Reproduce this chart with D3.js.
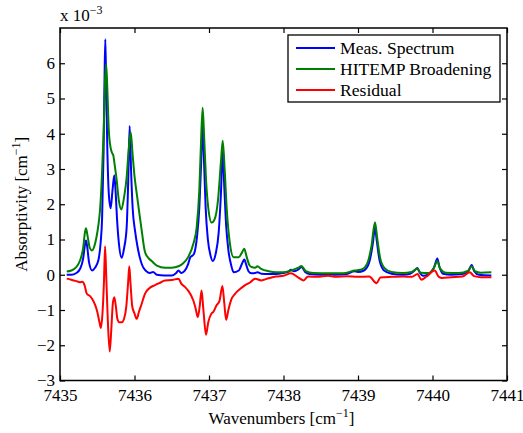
<!DOCTYPE html>
<html>
<head>
<meta charset="utf-8">
<script src="https://cdn.jsdelivr.net/npm/d3@7"></script>
<style>
  html, body { margin: 0; padding: 0; background: #fff; }
  svg { display: block; }
  text { font-family: "Liberation Serif", "Times New Roman", serif; fill: #000; }
</style>
</head>
<body>
<svg id="chart" width="523" height="433"></svg>
<script>
// Absorptivity spectra, values in units of 1e-3 cm^-1, wavenumber in cm^-1
const measured = [
  [7435.09, 0.00], [7435.15, 0.00], [7435.22, 0.05], [7435.27, 0.17], [7435.31, 0.45],
  [7435.335, 0.85], [7435.349, 0.97], [7435.365, 0.80], [7435.39, 0.35], [7435.43, 0.12],
  [7435.47, 0.20], [7435.515, 0.41], [7435.545, 0.90], [7435.565, 1.60], [7435.585, 3.50],
  [7435.598, 5.60], [7435.608, 6.68], [7435.618, 5.60], [7435.635, 3.60], [7435.655, 2.30],
  [7435.68, 1.89], [7435.705, 2.40], [7435.729, 2.82], [7435.748, 2.30], [7435.765, 1.60],
  [7435.79, 0.90], [7435.828, 0.48], [7435.86, 0.75], [7435.895, 1.35], [7435.915, 2.60],
  [7435.935, 4.22], [7435.955, 2.90], [7435.975, 1.90], [7436.007, 1.25], [7436.04, 0.80],
  [7436.07, 0.50], [7436.12, 0.20], [7436.21, 0.05], [7436.25, 0.08], [7436.30, 0.00],
  [7436.40, -0.02], [7436.50, -0.02], [7436.56, 0.05], [7436.59, 0.12], [7436.63, 0.05],
  [7436.67, 0.10], [7436.72, 0.30], [7436.75, 0.50], [7436.77, 0.53], [7436.80, 0.60],
  [7436.84, 1.10], [7436.87, 1.90], [7436.895, 3.20], [7436.915, 4.24], [7436.935, 3.10],
  [7436.955, 1.90], [7436.985, 1.00], [7437.02, 0.55], [7437.05, 0.39], [7437.09, 0.60],
  [7437.13, 1.20], [7437.16, 2.30], [7437.184, 3.48], [7437.205, 2.50], [7437.23, 1.40],
  [7437.26, 0.70], [7437.30, 0.25], [7437.33, 0.07], [7437.40, 0.12], [7437.44, 0.30],
  [7437.474, 0.43], [7437.50, 0.28], [7437.53, 0.10], [7437.57, 0.04], [7437.62, 0.05],
  [7437.65, 0.07], [7437.70, 0.03], [7437.80, 0.02], [7437.90, 0.02], [7438.00, 0.05],
  [7438.06, 0.08], [7438.10, 0.14], [7438.14, 0.10], [7438.20, 0.15], [7438.24, 0.22],
  [7438.29, 0.08], [7438.35, 0.02], [7438.50, 0.00], [7438.60, 0.02], [7438.70, 0.00],
  [7438.85, 0.02], [7438.95, 0.10], [7439.00, 0.08], [7439.08, 0.12], [7439.15, 0.35],
  [7439.20, 0.90], [7439.228, 1.35], [7439.25, 1.00], [7439.29, 0.40], [7439.35, 0.12],
  [7439.45, 0.03], [7439.60, 0.00], [7439.70, 0.03], [7439.76, 0.12], [7439.796, 0.19],
  [7439.83, 0.06], [7439.87, -0.03], [7439.95, 0.02], [7440.02, 0.20], [7440.065, 0.46],
  [7440.09, 0.25], [7440.14, 0.03], [7440.25, 0.00], [7440.40, 0.02], [7440.48, 0.10],
  [7440.526, 0.28], [7440.56, 0.10], [7440.62, 0.00], [7440.79, -0.02]
];

const hitemp = [
  [7435.09, 0.09], [7435.15, 0.12], [7435.22, 0.22], [7435.27, 0.41], [7435.31, 0.75],
  [7435.335, 1.20], [7435.349, 1.32], [7435.37, 1.10], [7435.40, 0.76], [7435.43, 0.69],
  [7435.46, 0.80], [7435.49, 1.07], [7435.515, 1.40], [7435.537, 1.83], [7435.56, 2.68],
  [7435.585, 4.00], [7435.605, 5.50], [7435.62, 5.97], [7435.635, 5.30], [7435.655, 4.10],
  [7435.68, 3.60], [7435.70, 3.45], [7435.715, 3.39], [7435.735, 3.10], [7435.76, 2.70],
  [7435.79, 2.10], [7435.823, 1.85], [7435.86, 2.20], [7435.895, 2.77], [7435.92, 3.50],
  [7435.949, 4.05], [7435.975, 3.40], [7436.00, 2.80], [7436.03, 2.30], [7436.065, 1.75],
  [7436.10, 1.20], [7436.14, 0.65], [7436.185, 0.48], [7436.23, 0.39], [7436.30, 0.26],
  [7436.41, 0.20], [7436.50, 0.20], [7436.59, 0.24], [7436.65, 0.32], [7436.72, 0.50],
  [7436.79, 0.88], [7436.835, 1.35], [7436.87, 2.40], [7436.895, 3.90], [7436.915, 4.74],
  [7436.935, 3.90], [7436.96, 2.70], [7436.99, 1.90], [7437.036, 1.48], [7437.08, 1.60],
  [7437.12, 2.10], [7437.16, 3.20], [7437.184, 3.80], [7437.21, 3.00], [7437.24, 1.80],
  [7437.28, 0.90], [7437.33, 0.50], [7437.40, 0.50], [7437.44, 0.62], [7437.474, 0.74],
  [7437.50, 0.55], [7437.54, 0.28], [7437.57, 0.22], [7437.62, 0.20], [7437.65, 0.24],
  [7437.70, 0.17], [7437.80, 0.10], [7437.90, 0.07], [7438.00, 0.07], [7438.10, 0.12],
  [7438.20, 0.20], [7438.24, 0.25], [7438.30, 0.10], [7438.40, 0.05], [7438.60, 0.04],
  [7438.80, 0.04], [7438.95, 0.12], [7439.05, 0.15], [7439.12, 0.30], [7439.18, 0.80],
  [7439.228, 1.49], [7439.26, 1.00], [7439.30, 0.45], [7439.36, 0.18], [7439.45, 0.08],
  [7439.60, 0.05], [7439.72, 0.08], [7439.796, 0.17], [7439.84, 0.06], [7439.95, 0.05],
  [7440.02, 0.20], [7440.065, 0.39], [7440.10, 0.18], [7440.18, 0.06], [7440.35, 0.05],
  [7440.48, 0.12], [7440.526, 0.24], [7440.57, 0.10], [7440.65, 0.06], [7440.79, 0.07]
];

const residual = [
  [7435.09, -0.11], [7435.15, -0.14], [7435.22, -0.18], [7435.268, -0.21], [7435.30, -0.20],
  [7435.33, -0.30], [7435.36, -0.54], [7435.40, -0.60], [7435.43, -0.68], [7435.47, -0.85],
  [7435.50, -1.05], [7435.53, -1.35], [7435.55, -1.51], [7435.57, -1.10], [7435.59, -0.20],
  [7435.605, 0.81], [7435.62, 0.00], [7435.64, -1.20], [7435.667, -2.18], [7435.69, -1.50],
  [7435.71, -0.80], [7435.729, -0.64], [7435.75, -0.90], [7435.77, -1.25], [7435.796, -1.35],
  [7435.83, -1.35], [7435.86, -1.25], [7435.89, -0.90], [7435.915, -0.20], [7435.93, 0.24],
  [7435.945, -0.20], [7435.97, -0.90], [7436.00, -1.10], [7436.03, -1.25], [7436.06, -1.05],
  [7436.10, -0.80], [7436.14, -0.54], [7436.20, -0.38], [7436.27, -0.30], [7436.35, -0.22],
  [7436.41, -0.16], [7436.50, -0.15], [7436.59, -0.11], [7436.63, -0.26], [7436.68, -0.35],
  [7436.72, -0.45], [7436.79, -0.73], [7436.82, -0.95], [7436.85, -1.20], [7436.875, -0.90],
  [7436.90, -0.45], [7436.925, -1.00], [7436.96, -1.70], [7436.99, -1.35], [7437.03, -1.11],
  [7437.06, -1.05], [7437.10, -0.87], [7437.14, -0.75], [7437.18, -0.32], [7437.205, -0.80],
  [7437.23, -1.28], [7437.26, -1.00], [7437.30, -0.70], [7437.35, -0.54], [7437.42, -0.40],
  [7437.48, -0.30], [7437.55, -0.22], [7437.62, -0.11], [7437.70, -0.16], [7437.80, -0.10],
  [7437.90, -0.05], [7438.00, -0.03], [7438.10, 0.04], [7438.18, -0.05], [7438.27, -0.16],
  [7438.33, -0.05], [7438.45, -0.06], [7438.60, -0.03], [7438.70, -0.06], [7438.85, -0.04],
  [7439.00, -0.06], [7439.15, -0.05], [7439.25, -0.24], [7439.30, -0.08], [7439.45, -0.06],
  [7439.60, -0.05], [7439.72, -0.06], [7439.80, 0.02], [7439.85, -0.14], [7439.92, -0.05],
  [7440.03, 0.12], [7440.08, -0.05], [7440.12, -0.09], [7440.25, -0.07], [7440.40, -0.05],
  [7440.50, 0.07], [7440.56, -0.04], [7440.65, -0.07], [7440.79, -0.07]
];

const xTicks = [7435, 7436, 7437, 7438, 7439, 7440, 7441];
const yTicks = [-3, -2, -1, 0, 1, 2, 3, 4, 5, 6];
const seriesNames = ["Meas. Spectrum", "HITEMP Broadening", "Residual"];
const seriesColors = ["#0000ff", "#008000", "#ff0000"];

const svg = d3.select("#chart");
const m = { left: 60, right: 507, top: 28, bottom: 380.5 };

const x = d3.scaleLinear().domain([7435, 7441]).range([m.left, m.right]);
const y = d3.scaleLinear().domain([-3, 7]).range([m.bottom, m.top]);

// clip the traces to the axes box
svg.append("defs").append("clipPath").attr("id", "plotClip")
  .append("rect").attr("x", m.left).attr("y", m.top)
  .attr("width", m.right - m.left).attr("height", m.bottom - m.top);

const line = d3.line()
  .x(d => x(d[0]))
  .y(d => y(d[1]))
  .curve(d3.curveMonotoneX);

const traces = svg.append("g").attr("clip-path", "url(#plotClip)");
[measured, hitemp, residual].forEach((s, i) => {
  traces.append("path")
    .datum(s)
    .attr("d", line)
    .attr("fill", "none")
    .attr("stroke", seriesColors[i])
    .attr("stroke-width", 2)
    .attr("stroke-linejoin", "round");
});

// axes with inward ticks on all four sides
const fontSize = 17;
function styleAxis(g) {
  g.select(".domain").remove();
  g.selectAll(".tick line").attr("stroke", "#000").attr("stroke-width", 1.2);
  g.selectAll(".tick text")
    .attr("font-family", "Liberation Serif, Times New Roman, serif")
    .attr("font-size", fontSize)
    .attr("fill", "#000");
}

svg.append("g")
  .attr("transform", `translate(0,${m.bottom})`)
  .call(d3.axisBottom(x).tickValues(xTicks).tickFormat(d3.format("d"))
    .tickSizeInner(-5).tickSizeOuter(0).tickPadding(8))
  .call(styleAxis);

svg.append("g")
  .attr("transform", `translate(0,${m.top})`)
  .call(d3.axisTop(x).tickValues(xTicks).tickFormat("")
    .tickSizeInner(-5).tickSizeOuter(0))
  .call(styleAxis);

svg.append("g")
  .attr("transform", `translate(${m.left},0)`)
  .call(d3.axisLeft(y).tickValues(yTicks).tickFormat(d3.format("d"))
    .tickSizeInner(-5).tickSizeOuter(0).tickPadding(5))
  .call(styleAxis);

svg.append("g")
  .attr("transform", `translate(${m.right},0)`)
  .call(d3.axisRight(y).tickValues(yTicks).tickFormat("")
    .tickSizeInner(-5).tickSizeOuter(0))
  .call(styleAxis);

// axes box
svg.append("rect")
  .attr("x", m.left).attr("y", m.top)
  .attr("width", m.right - m.left).attr("height", m.bottom - m.top)
  .attr("fill", "none").attr("stroke", "#000").attr("stroke-width", 1.5);

// exponent label
const expo = svg.append("text")
  .attr("x", m.left).attr("y", 21)
  .attr("font-size", fontSize);
expo.append("tspan").text("x 10");
expo.append("tspan").attr("dy", -7).attr("font-size", 12).text("\u22123");

// axis titles
const xl = svg.append("text")
  .attr("x", (m.left + m.right) / 2 - 2).attr("y", 424)
  .attr("text-anchor", "middle").attr("font-size", fontSize);
xl.append("tspan").text("Wavenumbers [cm");
xl.append("tspan").attr("dy", -7).attr("font-size", 12).text("\u22121");
xl.append("tspan").attr("dy", 7).text("]");

const yl = svg.append("text")
  .attr("transform", `translate(27,${(m.top + m.bottom) / 2}) rotate(-90)`)
  .attr("text-anchor", "middle").attr("font-size", fontSize);
yl.append("tspan").text("Absorptivity [cm");
yl.append("tspan").attr("dy", -7).attr("font-size", 12).text("\u22121");
yl.append("tspan").attr("dy", 7).text("]");

// legend
const lg = svg.append("g");
lg.append("rect")
  .attr("x", 288).attr("y", 35).attr("width", 212).attr("height", 67)
  .attr("fill", "#fff").attr("stroke", "#000").attr("stroke-width", 1.3);
seriesNames.forEach((name, i) => {
  const cy = 48 + i * 21;
  lg.append("line")
    .attr("x1", 296).attr("x2", 335).attr("y1", cy).attr("y2", cy)
    .attr("stroke", seriesColors[i]).attr("stroke-width", 2);
  lg.append("text")
    .attr("x", 340).attr("y", cy + 6)
    .attr("font-size", 17.6).text(name);
});
</script>
</body>
</html>
